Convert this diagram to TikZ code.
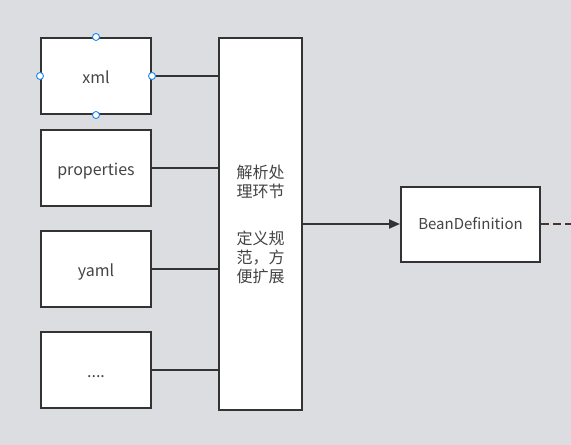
\documentclass[tikz,border=0pt]{standalone}
\usepackage{fontspec}
\setmainfont{Noto Sans CJK SC}
\usetikzlibrary{positioning,arrows.meta}
\definecolor{bgray}{HTML}{DCDDE1}
\definecolor{lgray}{HTML}{333333}
\definecolor{tgray}{HTML}{444444}
\definecolor{hblue}{HTML}{1E88F0}
\definecolor{dred}{HTML}{4E3030}
\tikzset{
  srcbox/.style={draw=lgray,line width=2pt,fill=white,minimum width=110pt,minimum height=76pt,inner sep=0pt,text=tgray,font=\fontsize{16}{19}\selectfont,text height=14pt,text depth=0pt},
  handle/.style={draw=hblue,line width=0.9pt,fill=white,circle,inner sep=0pt,minimum size=7pt},
  link/.style={draw=lgray,line width=2pt}
}
\begin{document}
\begin{tikzpicture}[x=1pt,y=-1pt]
\useasboundingbox[fill=bgray] (0,0) rectangle (571,445);
% source boxes
\node[srcbox] (xml) at (96,76) {xml};
\node[srcbox] (props) at (96,168) {properties};
\node[srcbox] (yaml) at (96,269) {yaml};
\node[srcbox] (more) at (96,370) {....};
% parsing stage
\node[srcbox,minimum width=83pt,minimum height=372pt,align=center,text height=,text depth=] (parse) at (260.5,224) {解析处\\理环节\\[28pt]定义规\\范，方\\便扩展};
\node[srcbox,minimum width=139pt,minimum height=75pt,font=\fontsize{15}{17}\selectfont,text height=10pt] (bean) at (470.5,224) {BeanDefinition};
% connectors
\draw[link] (xml.east) -- (xml.east -| parse.west);
\draw[link] (props.east) -- (props.east -| parse.west);
\draw[link] (yaml.east) -- (yaml.east -| parse.west);
\draw[link] (more.east) -- (more.east -| parse.west);
\draw[link,-{Triangle[length=11pt,width=9pt]}] (parse.east |- bean.west) -- (bean.west);
\coordinate (cut) at (571,224);
\draw[draw=dred,line width=2pt,dash pattern=on 8pt off 4pt] (bean.east) -- (cut);
% selection handles
\foreach \a in {north,south,east,west}
  \node[handle] at (xml.\a) {};
\end{tikzpicture}
\end{document}
